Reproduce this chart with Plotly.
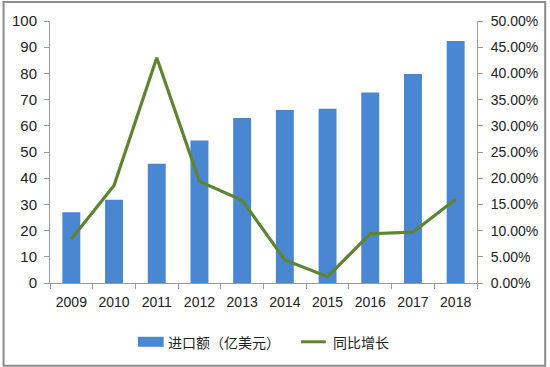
import plotly.graph_objects as go

years = ["2009", "2010", "2011", "2012", "2013", "2014", "2015", "2016", "2017", "2018"]
import_values = [27.0, 31.8, 45.5, 54.4, 63.0, 66.0, 66.5, 72.7, 79.8, 92.4]
growth_pct = [0.084, 0.186, 0.430, 0.194, 0.158, 0.044, 0.012, 0.094, 0.097, 0.160]

bar_name = "进口额（亿美元）"
line_name = "同比增长"

bar_color = "#4a87d3"
line_color = "#5e8431"
font_family = "Liberation Sans Narrow, Liberation Sans, Noto Sans CJK SC, sans-serif"
cjk_font = "Noto Sans CJK SC, sans-serif"

fig = go.Figure()
fig.add_trace(go.Bar(
    x=years, y=import_values, name=bar_name,
    marker=dict(color=bar_color, line=dict(width=0)),
    width=0.42, showlegend=False,
))
fig.add_trace(go.Scatter(
    x=years, y=growth_pct, name=line_name, yaxis="y2",
    mode="lines", line=dict(color=line_color, width=3.2), showlegend=False,
))

W, H = 432, 263  # plot area size in px
def px(x):
    return (x - 48) / W
def py(y):
    return (283 - y) / H

axis_line = "#9a9a9a"
shapes = [
    dict(type="rect", xref="paper", yref="paper",
         x0=px(1), x1=px(549), y0=py(366), y1=py(1),
         line=dict(color="#8c8c8c", width=2), fillcolor="rgba(0,0,0,0)", layer="below"),
    # manual legend symbols
    dict(type="rect", xref="paper", yref="paper",
         x0=px(137), x1=px(163), y0=py(347), y1=py(337),
         line=dict(width=0), fillcolor=bar_color),
    dict(type="line", xref="paper", yref="paper",
         x0=px(302), x1=px(327), y0=py(342), y1=py(342),
         line=dict(color=line_color, width=3)),
]
annotations = [
    dict(xref="paper", yref="paper", x=px(165), y=py(342), text=bar_name, showarrow=False,
         xanchor="left", yanchor="middle", font=dict(family=cjk_font, size=14, color="#222222")),
    dict(xref="paper", yref="paper", x=px(332), y=py(342), text=line_name, showarrow=False,
         xanchor="left", yanchor="middle", font=dict(family=cjk_font, size=14, color="#222222")),
]

fig.update_layout(
    width=550, height=367,
    margin=dict(l=48, r=70, t=20, b=84),
    paper_bgcolor="white", plot_bgcolor="white",
    font=dict(family=font_family, size=13, color="#222222"),
    showlegend=False,
    xaxis=dict(type="category", showgrid=False, showline=True, linecolor=axis_line, linewidth=1,
               ticks="outside", tickson="boundaries", ticklen=5, tickcolor=axis_line,
               tickfont=dict(size=14), ticklabelstandoff=6),
    yaxis=dict(range=[0, 100], dtick=10, showgrid=False, showline=True, linecolor=axis_line,
               ticks="outside", ticklen=5, tickcolor=axis_line, zeroline=False,
               tickfont=dict(size=15), ticklabelstandoff=4),
    yaxis2=dict(range=[0, 0.5], dtick=0.05, tickformat=".2%", overlaying="y", side="right",
                showgrid=False, showline=True, linecolor=axis_line, ticks="outside", ticklen=5,
                tickcolor=axis_line, zeroline=False, tickfont=dict(size=14), ticklabelstandoff=5),
    shapes=shapes,
    annotations=annotations,
)

fig.write_html("out.html", config={"displayModeBar": False},
               post_script="document.body.style.margin='0';document.body.style.overflow='hidden';")
